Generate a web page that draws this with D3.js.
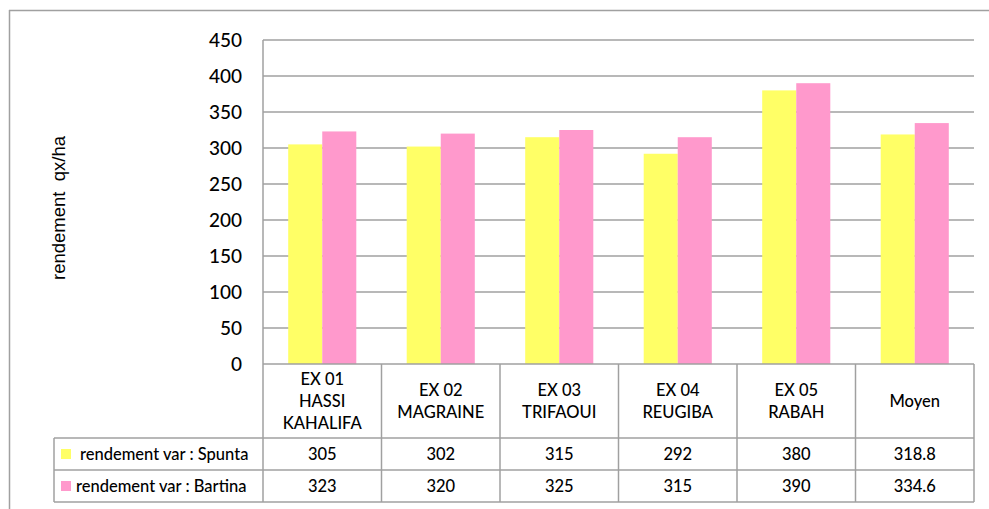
<!DOCTYPE html>
<html>
<head>
<meta charset="utf-8">
<script src="https://cdn.jsdelivr.net/npm/d3@7"></script>
<style>
body{margin:0;background:#fff;}
text{font-family:Lato,"Open Sans",sans-serif;fill:#000;}
</style>
</head>
<body>
<div id="chart"></div>
<script>
let categories = [
    ["EX 01","HASSI","KAHALIFA"],
    ["EX 02","MAGRAINE"],
    ["EX 03","TRIFAOUI"],
    ["EX 04","REUGIBA"],
    ["EX 05","RABAH"],
    ["Moyen"]
];
let seriesNames = ["rendement var : Spunta","rendement var : Bartina"];
let spunta = [305,302,315,292,380,318.8];
let bartina = [323,320,325,315,390,334.6];
let yTicks = [0,50,100,150,200,250,300,350,400,450];
let colors = ["#FFFF66","#FF99CC"];

function config(){
    let width = 989, height = 509;
    let plot = {left:263, right:974, top:40, bottom:364};
    let tableLeft = 54;
    let rows = [364,438,470,502];
    let svg = d3.select("#chart").append("svg")
        .attr("width", width).attr("height", height);
    return {width, height, plot, tableLeft, rows, svg};
}

function scales(cfg){
    let {plot} = cfg;
    let idx = d3.range(categories.length);
    let xScale = d3.scaleBand().domain(idx).range([plot.left, plot.right]);
    let xInner = d3.scaleBand().domain([0,1])
        .range([0, xScale.bandwidth()]).paddingOuter(0.74).paddingInner(0);
    let yScale = d3.scaleLinear().domain([0,450]).range([plot.bottom, plot.top]);
    return {xScale, xInner, yScale};
}

function draw(cfg, sc){
    let {svg, plot, tableLeft, rows, width, height} = cfg;
    let {xScale, xInner, yScale} = sc;
    let grey = "#A0A0A0";

    // outer frame
    svg.append("line").attr("x1",9).attr("x2",width).attr("y1",10.5).attr("y2",10.5)
        .attr("stroke",grey).attr("stroke-width",1.5);
    svg.append("line").attr("x1",9.5).attr("x2",9.5).attr("y1",10).attr("y2",height)
        .attr("stroke",grey).attr("stroke-width",1.5);

    // gridlines
    svg.append("g").selectAll("line").data(yTicks.filter(d=>d>0)).enter().append("line")
        .attr("x1",plot.left).attr("x2",plot.right)
        .attr("y1",d=>yScale(d)).attr("y2",d=>yScale(d))
        .attr("stroke",grey).attr("stroke-width",1.5);

    // y axis labels
    let yAxis = d3.axisLeft(yScale).tickValues(yTicks).tickSize(0).tickPadding(21);
    let ya = svg.append("g").attr("transform","translate("+plot.left+",0)").call(yAxis);
    ya.select(".domain").remove();
    ya.selectAll("text").style("font-size","19px").style("font-weight","500").attr("dy","0.36em");

    svg.append("line").attr("x1",plot.left).attr("x2",plot.left)
        .attr("y1",plot.top).attr("y2",plot.bottom)
        .attr("stroke",grey).attr("stroke-width",1.5);

    // bars
    let data = [spunta, bartina];
    data.forEach(function(vals, s){
        svg.append("g").selectAll("rect").data(vals).enter().append("rect")
            .attr("x",(d,i)=>xScale(i)+xInner(s))
            .attr("width",xInner.bandwidth())
            .attr("y",d=>yScale(d))
            .attr("height",d=>yScale(0)-yScale(d))
            .style("fill",colors[s]);
    });

    // data table
    let t = svg.append("g");
    t.append("line").attr("x1",plot.left).attr("x2",plot.right).attr("y1",rows[0]).attr("y2",rows[0])
        .attr("stroke",grey).attr("stroke-width",1.5);
    rows.slice(1).forEach(function(y){
        t.append("line").attr("x1",tableLeft).attr("x2",plot.right).attr("y1",y).attr("y2",y)
            .attr("stroke",grey).attr("stroke-width",1.5);
    });
    let xs = d3.range(categories.length+1).map(i=> i<categories.length ? xScale(i) : plot.right);
    xs.forEach(function(x){
        t.append("line").attr("x1",x).attr("x2",x).attr("y1",rows[0]).attr("y2",rows[3])
            .attr("stroke",grey).attr("stroke-width",1.5);
    });
    t.append("line").attr("x1",tableLeft).attr("x2",tableLeft).attr("y1",rows[1]).attr("y2",rows[3])
        .attr("stroke",grey).attr("stroke-width",1.5);

    // header labels
    categories.forEach(function(lines, i){
        let cx = xScale(i) + xScale.bandwidth()/2;
        let cy = (rows[0]+rows[1])/2;
        let lh = 22;
        let txt = t.append("text").attr("text-anchor","middle")
            .style("font-size","16.5px").style("font-weight","500");
        lines.forEach(function(l, j){
            txt.append("tspan").attr("x",cx)
                .attr("y", cy + (j-(lines.length-1)/2)*lh)
                .attr("dy","0.36em").text(l);
        });
    });

    // values rows
    data.forEach(function(vals, s){
        let cy = (rows[s+1]+rows[s+2])/2;
        t.append("g").selectAll("text").data(vals).enter().append("text")
            .attr("x",(d,i)=>xScale(i)+xScale.bandwidth()/2)
            .attr("y",cy).attr("dy","0.36em")
            .attr("text-anchor","middle").style("font-size","16.5px").style("font-weight","500")
            .text(d=>d);
        t.append("rect").attr("x",61).attr("y",cy-5).attr("width",10).attr("height",10)
            .style("fill",colors[s]);
        t.append("text").attr("x", s==0 ? 80 : 76).attr("y",cy).attr("dy","0.36em")
            .style("font-size","16.5px").style("font-weight","500").text(seriesNames[s]);
    });

    // y title
    svg.append("text")
        .attr("transform","translate(58,208) rotate(-90)")
        .attr("text-anchor","middle").attr("dy","0.36em")
        .style("font-family","'Liberation Sans',Arial,sans-serif")
        .style("font-size","18.5px")
        .style("white-space","pre")
        .text("rendement  qx/ha");
}

let cfg = config();
let sc = scales(cfg);
draw(cfg, sc);
</script>
</body>
</html>
